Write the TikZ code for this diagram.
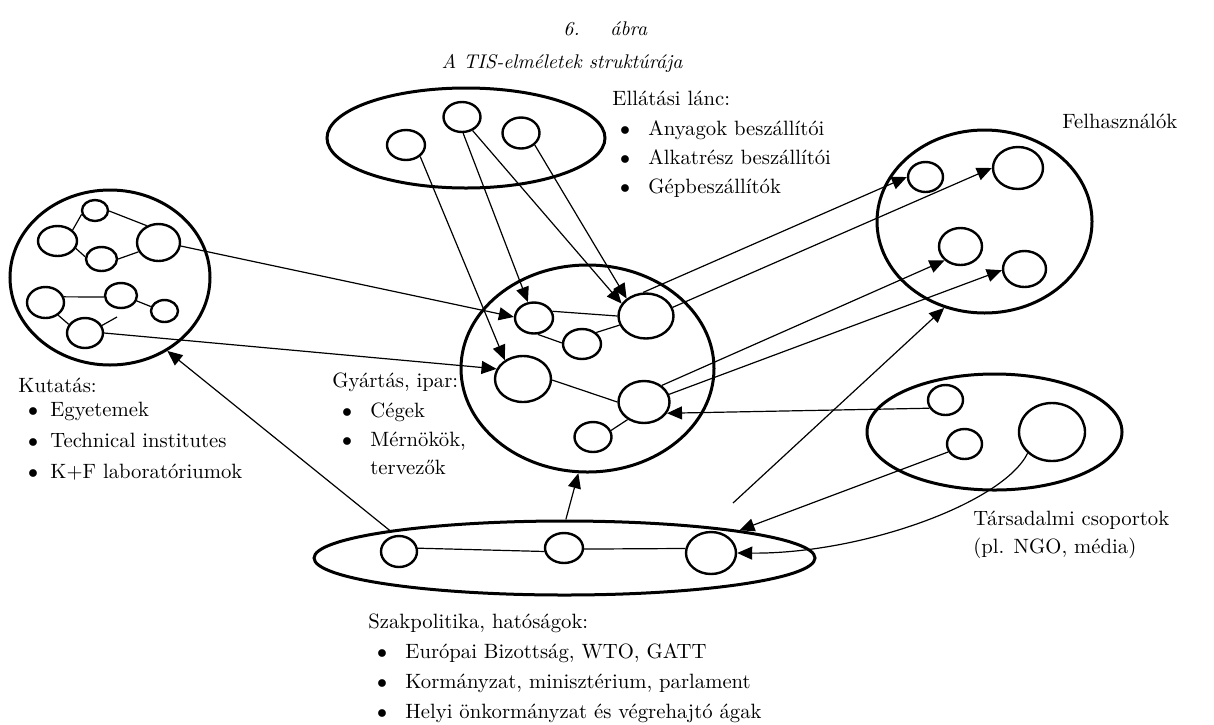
\documentclass[tikz,border=0pt]{standalone}
\usepackage{fontspec}
\usetikzlibrary{shapes.geometric,arrows.meta}
\newcommand\txtfont{\fontsize{10.35}{12}\selectfont}
\newcommand\ttlfont{\fontsize{9.9}{12}\selectfont\itshape}
\begin{document}
\begin{tikzpicture}[x=0.5pt,y=-0.5pt,
  ov/.style 2 args={ellipse, draw, inner sep=0pt, minimum width=#1pt, minimum height=#2pt},
  grp/.style={line width=1.5pt},
  unit/.style={line width=1.2pt},
  link/.style={line width=0.6pt},
  flow/.style={link, -{Triangle[length=7.5pt,width=6.5pt]}},
  lbl/.style={anchor=base west, inner sep=0pt, font=\txtfont},
  dot/.style={anchor=base, inner sep=0pt, font=\txtfont},
  ttl/.style={inner sep=0pt, font=\ttlfont}]
\useasboundingbox (0,0) rectangle (1214,724);

% title
\node[ttl, anchor=base west] (tnum) at (563,35) {6.};
\node[ttl, anchor=base west] (tword) at (610,35) {ábra};
\node[ttl, anchor=base] (tsub) at (562,68) {A TIS-elméletek struktúrája};

% supply chain
\node[ov={139}{50}, grp] (sup) at (466,138) {};
\node[ov={19}{15}, unit] (a1) at (406,145) {};
\node[ov={18.5}{15}, unit] (a2) at (462,117) {};
\node[ov={18.5}{15.5}, unit] (a3) at (521,133) {};

% research
\node[ov={100}{87.5}, grp] (res) at (110,277.5) {};
\node[ov={13}{10.5}, unit] (r1) at (95,210.5) {};
\node[ov={19.5}{15}, unit] (r2) at (57.5,241) {};
\node[ov={21.5}{18.5}, unit] (r3) at (158.5,242.5) {};
\node[ov={15.5}{12}, unit] (r4) at (101.5,259) {};
\node[ov={18.5}{15.5}, unit] (r5) at (45.5,302.5) {};
\node[ov={16}{12.5}, unit] (r6) at (121,295.5) {};
\node[ov={13.5}{11}, unit] (r7) at (164.5,311) {};
\node[ov={18}{15}, unit] (r8) at (85,333) {};
\coordinate (r8stub) at (117,317);

% manufacturing
\node[ov={126.5}{103.5}, grp] (cen) at (587.5,368.5) {};
\node[ov={28}{23}, unit] (m1) at (523,379) {};
\node[ov={19}{15.5}, unit] (m2) at (534,318) {};
\node[ov={27.5}{22.5}, unit] (m3) at (646,316) {};
\node[ov={19}{15}, unit] (m4) at (582,344) {};
\node[ov={25.5}{21}, unit] (m5) at (644,402) {};
\node[ov={18.5}{15}, unit] (m6) at (593,437) {};

% users
\node[ov={107.5}{91.5}, grp] (usr) at (984.5,221.5) {};
\node[ov={17.5}{15}, unit] (u1) at (925.5,177) {};
\node[ov={25}{21}, unit] (u2) at (1018,168) {};
\node[ov={21.5}{18.5}, unit] (u3) at (960.5,246.5) {};
\node[ov={21.5}{18}, unit] (u4) at (1024.5,269) {};

% social groups
\node[ov={127.5}{58}, grp] (soc) at (994.5,432) {};
\node[ov={17.5}{15}, unit] (s1) at (945.5,400) {};
\node[ov={17.5}{15}, unit] (s2) at (964.5,444) {};
\node[ov={33}{29}, unit] (s3) at (1052,432) {};

% policy
\node[ov={250.5}{37}, grp] (pol) at (564.5,558) {};
\node[ov={18}{15.5}, unit] (p1) at (399,551.5) {};
\node[ov={19}{15}, unit] (p2) at (564,548) {};
\node[ov={25}{21}, unit] (p3) at (711,553) {};
\coordinate (freeend) at (733,503);

% links inside the groups
\draw[link] (r1.196) -- (r2.36);
\draw[link] (r1.-2) -- (r3.125);
\draw[link] (r2.-22) -- (r4.172);
\draw[link] (r4.0) -- (r3.205);
\draw[link] (r5.17) -- (r6.185);
\draw[link] (r6.-19) -- (r7.162);
\draw[link] (r5.-45) -- (r8.152);
\draw[link] (r8.24) -- (r8stub);
\draw[link] (m2.20) -- (m3.180);
\draw[link] (m4.39) -- (m3.199);
\draw[link] (m2.-77) -- (m4.177);
\draw[link] (m1.-2) -- (m5.180);
\draw[link] (m5.-133) -- (m6.20);
\draw[link] (p1.10) -- (p2.190);
\draw[link] (p2.-3) -- (p3.170);

% flows between the groups
\draw[flow] (a1.-39) -- (m1.134);
\draw[flow] (a2.-86) -- (m2.111);
\draw[flow] (a2.-52) -- (m3.153);
\draw[flow] (a3.-41) -- (m3.138);
\draw[flow] (r3.-9) -- (m2.177);
\draw[flow] (r8.0) -- (m1.159);
\draw[flow] (m3.97) -- (u1.180);
\draw[flow] (m3.18) -- (u2.180);
\draw[flow] (m5.43) -- (u3.221);
\draw[flow] (m5.17) -- (u4.183);
\draw[flow] (s1.207) -- (m5.-26);
\draw[flow] (s2.206) -- (pol.9.7);
\draw[flow] (s3.221) .. controls (1003,503) and (862,554) .. (p3.0);
\draw[flow] (pol.171.4) -- (res.-52);
\draw[flow] (pol.88) -- (cen.-95);
\draw[flow] (freeend) -- (usr.245);

% supply chain labels
\node[lbl] (supt) at (612,105) {Ellátási lánc:};
\node[dot] (supb1) at (625,135) {$\bullet$};
\node[dot] (supb2) at (625,164) {$\bullet$};
\node[dot] (supb3) at (625,193) {$\bullet$};
\node[lbl] (sup1) at (648,135) {Anyagok beszállítói};
\node[lbl] (sup2) at (648,164) {Alkatrész beszállítói};
\node[lbl] (sup3) at (648,193) {Gépbeszállítók};

% research labels
\node[lbl] (rest) at (18,392) {Kutatás:};
\node[dot] (resb1) at (33,416) {$\bullet$};
\node[dot] (resb2) at (33,447) {$\bullet$};
\node[dot] (resb3) at (33,478) {$\bullet$};
\node[lbl] (res1) at (50,416) {Egyetemek};
\node[lbl] (res2) at (50,447) {Technical institutes};
\node[lbl] (res3) at (50,478) {K+F laboratóriumok};

% manufacturing labels
\node[lbl] (cent) at (332,387) {Gyártás, ipar:};
\node[dot] (cenb1) at (347,417) {$\bullet$};
\node[dot] (cenb2) at (347,446) {$\bullet$};
\node[lbl] (cen1) at (370,417) {Cégek};
\node[lbl] (cen2) at (370,446) {Mérnökök,};
\node[lbl] (cen3) at (370,474) {tervezők};

% users label
\node[lbl] (usrt) at (1062,128) {Felhasználók};

% social groups labels
\node[lbl] (soct) at (973,525) {Társadalmi csoportok};
\node[lbl] (soc1) at (973,553) {(pl. NGO, média)};

% policy labels
\node[lbl] (polt) at (368,628) {Szakpolitika, hatóságok:};
\node[dot] (polb1) at (382,658) {$\bullet$};
\node[dot] (polb2) at (382,688) {$\bullet$};
\node[dot] (polb3) at (382,718) {$\bullet$};
\node[lbl] (pol1) at (405,658) {Európai Bizottság, WTO, GATT};
\node[lbl] (pol2) at (405,688) {Kormányzat, minisztérium, parlament};
\node[lbl] (pol3) at (405,718) {Helyi önkormányzat és végrehajtó ágak};
\end{tikzpicture}
\end{document}
